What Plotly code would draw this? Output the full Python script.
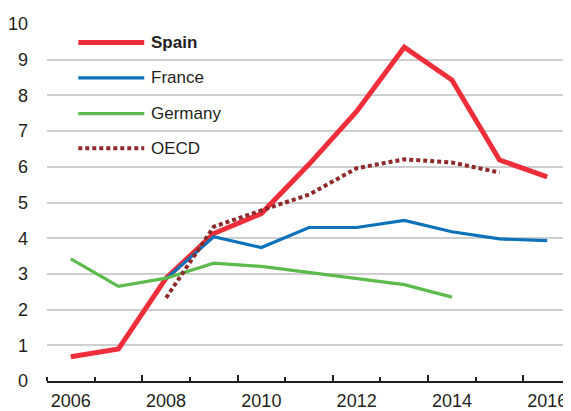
import plotly.graph_objects as go

years = [2006, 2007, 2008, 2009, 2010, 2011, 2012, 2013, 2014, 2015, 2016]
spain = [0.68, 0.90, 2.88, 4.13, 4.69, 6.07, 7.55, 9.35, 8.43, 6.19, 5.72]
france = [None, None, 2.86, 4.04, 3.74, 4.30, 4.30, 4.50, 4.18, 3.98, 3.93]
germany = [3.42, 2.65, 2.88, 3.30, 3.21, 3.04, 2.86, 2.70, 2.35, None, None]
oecd = [None, None, 2.33, 4.32, 4.78, 5.22, 5.96, 6.21, 6.12, 5.84, None]

names = ["Spain", "France", "Germany", "OECD"]
colors = ["#EE2F3B", "#0E72BA", "#5DBA4D", "#8E2A2A"]
widths = [5, 3.2, 3.2, 4]
dashes = ["solid", "solid", "solid", "4px,3px"]
series = [spain, france, germany, oecd]

label_years = [2006, 2008, 2010, 2012, 2014, 2016]
y_ticks = list(range(0, 11))

FONT = "Liberation Sans, Arial, sans-serif"
XR = [2005.5, 2016.5]

fig = go.Figure()
for name, vals, c, w, d in zip(names, series, colors, widths, dashes):
    fig.add_trace(go.Scatter(x=years, y=vals, name=name, mode="lines",
                             line=dict(color=c, width=w, dash=d),
                             connectgaps=False, showlegend=False))
# dummy trace to activate the major-tick axis
fig.add_trace(go.Scatter(x=[2006], y=[None], xaxis="x2", showlegend=False, hoverinfo="skip"))

# custom legend (long line samples)
PL, PW = 46.7, 571 - 46.7
shapes = []
annotations = []
leg_y = [42.7, 78.3, 114.3, 149.3]
for i, (name, c, w, d) in enumerate(zip(names, colors, widths, dashes)):
    py = (384 - leg_y[i]) / 360
    shapes.append(dict(type="line", xref="paper", yref="paper",
                       x0=(78 - PL) / PW, x1=(144 - PL) / PW, y0=py, y1=py,
                       line=dict(color=c, width=w, dash=d)))
    annotations.append(dict(xref="paper", yref="paper", x=(149 - PL) / PW, y=py,
                            xanchor="left", yanchor="middle", showarrow=False,
                            text=("<b>%s</b>" % name) if name == "Spain" else name,
                            font=dict(family=FONT, size=17, color="#231F20")))

fig.update_layout(
    width=563, height=403,
    margin=dict(l=38.7, r=0, t=16, b=27),
    paper_bgcolor="white", plot_bgcolor="white",
    showlegend=False,
    font=dict(family=FONT, size=18, color="#231F20"),
    xaxis=dict(range=XR, tickmode="array",
               tickvals=label_years, ticktext=[str(v) for v in label_years],
               ticks="", showgrid=False, zeroline=False,
               showline=True, linecolor="#231F20", linewidth=2,
               ticklabelstandoff=2,
               tickfont=dict(family=FONT, size=18, color="#231F20"),
               minor=dict(ticks="inside", tick0=2005.5, dtick=1, ticklen=4,
                          tickwidth=1.5, tickcolor="#231F20", showgrid=False)),
    xaxis2=dict(overlaying="x", anchor="y", side="bottom",
                range=XR, tickmode="linear", tick0=2005.5, dtick=2,
                ticks="inside", ticklen=6, tickwidth=1.5, tickcolor="#231F20",
                showticklabels=False, showgrid=False, zeroline=False, showline=False),
    yaxis=dict(range=[0, 10], tickmode="array", tickvals=y_ticks,
               showgrid=True, gridcolor="#CFCFCF", gridwidth=1.7,
               zeroline=False, showline=False, ticks="",
               ticklabelstandoff=18,
               tickfont=dict(family=FONT, size=18, color="#231F20")),
    shapes=shapes,
    annotations=annotations,
)

fig.write_html("out.html")
